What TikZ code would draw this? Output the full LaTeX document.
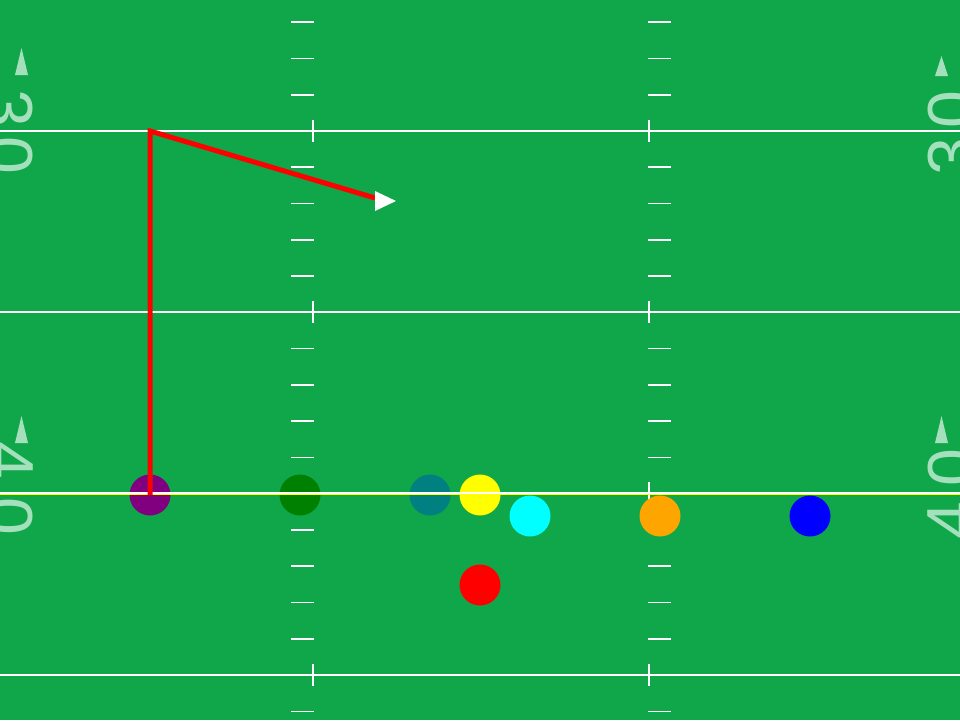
\documentclass[tikz,border=0pt]{standalone}
\usepackage{fontspec}
\setmainfont{Liberation Sans}
\usepackage{xcolor}
\definecolor{turfgreen}{RGB}{15,167,74}
\definecolor{numwhite}{RGB}{164,224,188}
\definecolor{plpurple}{HTML}{800080}
\definecolor{plgreen}{HTML}{008000}
\definecolor{plteal}{HTML}{008080}
\definecolor{plyellow}{HTML}{FFFF00}
\definecolor{plcyan}{HTML}{00FFFF}
\definecolor{plorange}{HTML}{FFA500}
\definecolor{plblue}{HTML}{0000FF}
\definecolor{plred}{HTML}{FF0000}
\tikzset{
  yardline/.style={white,line width=2pt},
  hashmark/.style={white,line width=1.6pt},
  yardtick/.style={white,line width=2pt},
  scrimmage/.style={plyellow,line width=1.1pt},
  player/.style={circle,minimum size=41pt,inner sep=0pt},
  route/.style={plred,line width=5pt,line join=miter},
  yardnum/.style={text=numwhite,font=\fontsize{68}{68}\selectfont,inner sep=0pt},
  yardarrow/.style={fill=numwhite}
}

\begin{document}
\begin{tikzpicture}[x=1pt,y=-1pt]
\useasboundingbox (0,0) rectangle (960,720);
\fill[turfgreen] (0,0) rectangle (960,720);
% yard numbers
\node[yardnum,rotate=-90,anchor=north] (l3) at (33,108.5) {3};
\node[yardnum,rotate=-90,anchor=north] (l0a) at (33,155) {0};
\node[yardnum,rotate=-90,anchor=north] (l4) at (33,460) {4};
\node[yardnum,rotate=-90,anchor=north] (l0b) at (33,516.5) {0};
\node[yardnum,rotate=90,anchor=north] (r0a) at (928,110) {0};
\node[yardnum,rotate=90,anchor=north] (r3) at (928,156.5) {3};
\node[yardnum,rotate=90,anchor=north] (r0b) at (928,467.5) {0};
\node[yardnum,rotate=90,anchor=north] (r4) at (928,521) {4};
\fill[yardarrow] (15,75)--(21.5,48)--(28,75)--cycle;
\fill[yardarrow] (935,76)--(941.5,56)--(948,76)--cycle;
\fill[yardarrow] (15,443)--(21.5,416)--(28,443)--cycle;
\fill[yardarrow] (935,443)--(941.5,416)--(948,443)--cycle;
% hash marks and ticks
\foreach \j in {-3,...,16}{\pgfmathtruncatemacro{\m}{mod(\j+5,5)}\ifnum\m>0
  \draw[hashmark] (291,131+36.27*\j)--(314,131+36.27*\j);
  \draw[hashmark] (648,131+36.27*\j)--(671,131+36.27*\j);\fi}
\foreach \yl in {131,312.3,493.2,675}{\draw[yardtick] (313,\yl-11)--(313,\yl+11);\draw[yardtick] (649,\yl-11)--(649,\yl+11);}
% players
\foreach \nm/\col/\px/\py in {wr/plpurple/150/495,tkl/plgreen/300/495,gd/plteal/430/495,ctr/plyellow/480/495,gdr/plcyan/530/516,tkr/plorange/660/516,te/plblue/810/516,qb/plred/480/585}{
  \node[player,fill=\col] (\nm) at (\px,\py) {};}
% yard lines and line of scrimmage
\foreach \yl in {131,312.3,493.2,675}{\draw[yardline] (0,\yl)--(960,\yl);}
\draw[scrimmage] (0,494.7)--(960,494.7);
% route
\coordinate (brk) at (150,131);
\coordinate (rend) at (375,198);
\draw[route] (wr.center)--(brk)--(rend);
\fill[white] (375,191)--(396,201)--(375,211)--cycle;
\end{tikzpicture}
\end{document}
